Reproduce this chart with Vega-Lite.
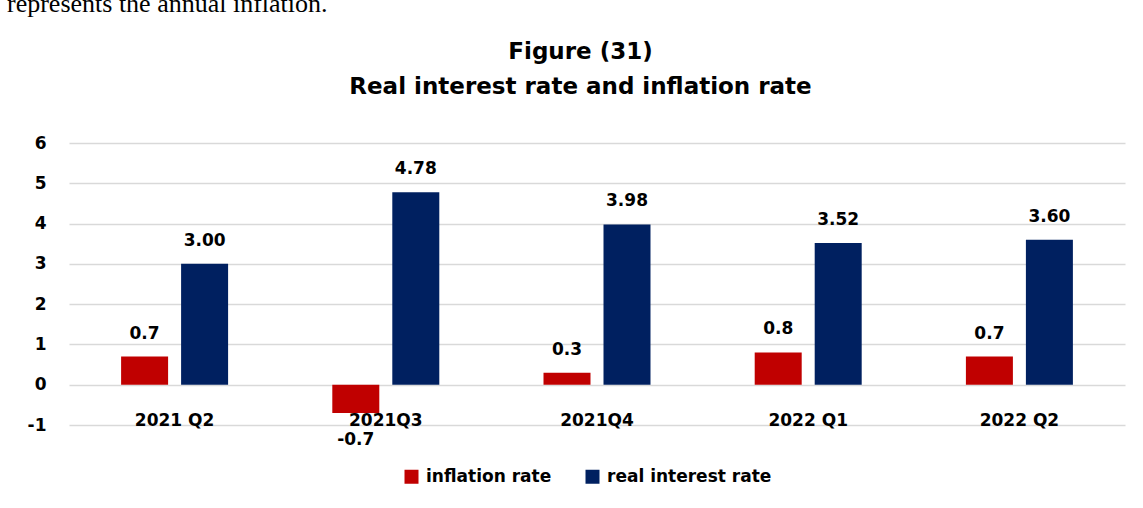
{
  "$schema": "https://vega.github.io/schema/vega-lite/v6.json",
  "width": 1056,
  "height": 282,
  "autosize": {"type": "none"},
  "padding": {"left": 69, "top": 143, "right": 18, "bottom": 83},
  "background": "white",
  "title": {
    "text": "represents the annual inflation.",
    "font": "Liberation Serif",
    "fontSize": 26,
    "fontWeight": "normal",
    "color": "#000000",
    "anchor": "start",
    "frame": "group",
    "dx": -62,
    "offset": 23
  },
  "config": {
    "view": {"stroke": null},
    "locale": {"number": {"decimal": ".", "thousands": ",", "grouping": [3], "currency": ["$", ""], "minus": "-"}}
  },
  "data": {
    "values": [
      {"quarter": "2021 Q2", "series": "inflation rate", "value": 0.7},
      {"quarter": "2021 Q2", "series": "real interest rate", "value": 3.00},
      {"quarter": "2021Q3", "series": "inflation rate", "value": -0.7},
      {"quarter": "2021Q3", "series": "real interest rate", "value": 4.78},
      {"quarter": "2021Q4", "series": "inflation rate", "value": 0.3},
      {"quarter": "2021Q4", "series": "real interest rate", "value": 3.98},
      {"quarter": "2022 Q1", "series": "inflation rate", "value": 0.8},
      {"quarter": "2022 Q1", "series": "real interest rate", "value": 3.52},
      {"quarter": "2022 Q2", "series": "inflation rate", "value": 0.7},
      {"quarter": "2022 Q2", "series": "real interest rate", "value": 3.60}
    ]
  },
  "layer": [
    {
      "mark": {"type": "bar"},
      "encoding": {
        "x": {
          "field": "quarter", "type": "nominal", "sort": null,
          "scale": {"paddingInner": 0.4934, "paddingOuter": 0.2467},
          "axis": {
            "orient": "bottom", "title": null, "domain": false, "ticks": false, "tickSize": 0,
            "labelPadding": 0, "labelBaseline": "alphabetic", "labelAngle": 0,
            "labelFont": "DejaVu Sans", "labelFontSize": 17, "labelFontWeight": "bold", "labelColor": "#000000"
          }
        },
        "xOffset": {
          "field": "series", "type": "nominal", "sort": ["inflation rate", "real interest rate"],
          "scale": {"paddingInner": 0.2167, "paddingOuter": 0}
        },
        "y": {
          "field": "value", "type": "quantitative",
          "scale": {"domain": [-1, 6], "nice": false, "zero": false},
          "axis": {
            "values": [-1, 0, 1, 2, 3, 4, 5, 6], "title": null, "grid": true, "gridColor": "#D9D9D9", "gridWidth": 1.5,
            "domain": false, "ticks": false, "tickSize": 0, "labelPadding": 23,
            "labelFont": "DejaVu Sans", "labelFontSize": 17, "labelFontWeight": "bold", "labelColor": "#000000",
            "labelExpr": "'' + datum.value"
          }
        },
        "color": {
          "field": "series", "type": "nominal",
          "scale": {"domain": ["inflation rate", "real interest rate"], "range": ["#C00000", "#002060"]},
          "legend": {
            "orient": "none", "legendX": 334, "legendY": 325, "direction": "horizontal", "title": null,
            "symbolType": "square", "symbolSize": 196, "symbolStrokeWidth": 0, "symbolOpacity": 1,
            "labelFont": "DejaVu Sans", "labelFontSize": 17, "labelFontWeight": "bold", "labelColor": "#000000",
            "labelOffset": 6, "labelLimit": 400, "columnPadding": 32, "padding": 0
          }
        }
      }
    },
    {
      "transform": [{"filter": "datum.series == 'inflation rate' && datum.value >= 0"}],
      "mark": {"type": "text", "baseline": "alphabetic", "dy": -18, "font": "DejaVu Sans", "fontSize": 17, "fontWeight": "bold", "color": "#000000"},
      "encoding": {
        "x": {"field": "quarter", "type": "nominal", "sort": null, "axis": null},
        "xOffset": {"field": "series", "type": "nominal", "sort": ["inflation rate", "real interest rate"]},
        "y": {"field": "value", "type": "quantitative"},
        "text": {"field": "value", "type": "quantitative", "format": ".1f"}
      }
    },
    {
      "transform": [{"filter": "datum.series == 'inflation rate' && datum.value < 0"}],
      "mark": {"type": "text", "baseline": "top", "dy": 19, "font": "DejaVu Sans", "fontSize": 17, "fontWeight": "bold", "color": "#000000"},
      "encoding": {
        "x": {"field": "quarter", "type": "nominal", "sort": null, "axis": null},
        "xOffset": {"field": "series", "type": "nominal", "sort": ["inflation rate", "real interest rate"]},
        "y": {"field": "value", "type": "quantitative"},
        "text": {"field": "value", "type": "quantitative", "format": ".1f"}
      }
    },
    {
      "transform": [{"filter": "datum.series == 'real interest rate'"}],
      "mark": {"type": "text", "baseline": "alphabetic", "dy": -18, "font": "DejaVu Sans", "fontSize": 17, "fontWeight": "bold", "color": "#000000"},
      "encoding": {
        "x": {
          "field": "quarter", "type": "nominal", "sort": null,
          "axis": {
            "orient": "top", "labels": false, "ticks": false, "domain": false, "grid": false,
            "title": ["Figure (31)", "Real interest rate and inflation rate"],
            "titleFont": "DejaVu Sans", "titleFontSize": 23, "titleFontWeight": "bold", "titleColor": "#000000",
            "titleLineHeight": 35, "titlePadding": 45, "titleX": 511, "titleAlign": "center"
          }
        },
        "xOffset": {"field": "series", "type": "nominal", "sort": ["inflation rate", "real interest rate"]},
        "y": {"field": "value", "type": "quantitative"},
        "text": {"field": "value", "type": "quantitative", "format": ".2f"}
      }
    }
  ],
  "resolve": {"axis": {"x": "independent"}}
}
